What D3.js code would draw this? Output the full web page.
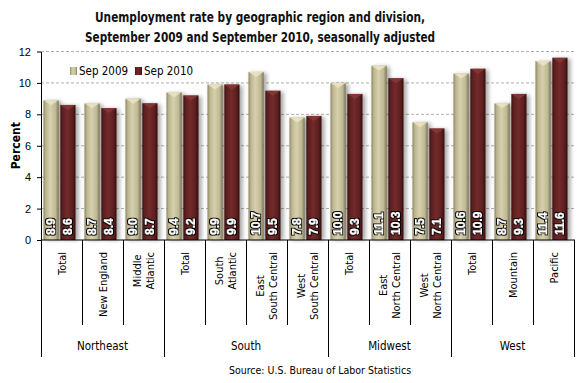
<!DOCTYPE html>
<html><head><meta charset="utf-8">
<script src="https://cdn.jsdelivr.net/npm/d3@7"></script>
<style>
body{margin:0;background:#fff;}
svg{display:block;}
text{font-family:"DejaVu Sans Condensed","DejaVu Sans",sans-serif;}
</style></head><body>
<svg id="c" width="580" height="383"></svg>
<script>
const categories = ["Total","New England","Middle\nAtlantic","Total","South\nAtlantic","East\nSouth Central","West\nSouth Central","Total","East\nNorth Central","West\nNorth Central","Total","Mountain","Pacific"];
const regions = [{name:"Northeast",n:3},{name:"South",n:4},{name:"Midwest",n:3},{name:"West",n:3}];
const seriesNames = ["Sep 2009","Sep 2010"];
const sep2009 = [8.9,8.7,9.0,9.4,9.9,10.7,7.8,10.0,11.1,7.5,10.6,8.7,11.4];
const sep2010 = [8.6,8.4,8.7,9.2,9.9,9.5,7.9,9.3,10.3,7.1,10.9,9.3,11.6];
const yTicks = [0,2,4,6,8,10,12];

const svg = d3.select("#c");
const L=41,R=574,T=51.5,B=240;
const idx = categories.map((d,i)=>i);
const x0 = d3.scaleBand().domain(idx).range([L,R]);
const x1 = d3.scaleBand().domain(seriesNames).range([2.5,34.5]).paddingInner(0.1);
const y = d3.scaleLinear().domain([0,12]).range([B,T]);

const defs = svg.append("defs");
function grad(id,stops){
  const g=defs.append("linearGradient").attr("id",id).attr("x1","0").attr("x2","1").attr("y1","0").attr("y2","0");
  stops.forEach(s=>g.append("stop").attr("offset",s[0]).attr("stop-color",s[1]));
}
grad("g0",[[0,"#8c8562"],[0.15,"#bdb58f"],[0.45,"#d6d0ae"],[0.8,"#bfb892"],[1,"#7d7656"]]);
grad("g1",[[0,"#3e1010"],[0.15,"#5e1f1f"],[0.45,"#722b2b"],[0.8,"#5e1f1f"],[1,"#350c0c"]]);
const sh = defs.append("filter").attr("id","sh").attr("x","-50%").attr("y","-20%").attr("width","200%").attr("height","140%");
sh.append("feGaussianBlur").attr("stdDeviation",2);
const tg = defs.append("filter").attr("id","tg").attr("x","-30%").attr("y","-30%").attr("width","160%").attr("height","160%");
tg.append("feMorphology").attr("in","SourceAlpha").attr("operator","dilate").attr("radius",0.8).attr("result","d");
tg.append("feFlood").attr("flood-color","#000").attr("result","f");
tg.append("feComposite").attr("in","f").attr("in2","d").attr("operator","in").attr("result","o");
const m = tg.append("feMerge"); m.append("feMergeNode").attr("in","o"); m.append("feMergeNode").attr("in","SourceGraphic");

// title
svg.append("text").attr("x",260).attr("y",22).attr("text-anchor","middle").attr("font-weight","bold").attr("font-size",13.5).attr("fill","#111")
 .attr("textLength",330).attr("lengthAdjust","spacingAndGlyphs").text("Unemployment rate by geographic region and division,");
svg.append("text").attr("x",260).attr("y",42).attr("text-anchor","middle").attr("font-weight","bold").attr("font-size",13.5).attr("fill","#111")
 .attr("textLength",350).attr("lengthAdjust","spacingAndGlyphs").text("September 2009 and September 2010, seasonally adjusted");

// grid
svg.append("g").selectAll("line").data(yTicks.filter(d=>d>0)).join("line")
 .attr("x1",L).attr("x2",R+1).attr("y1",d=>y(d)).attr("y2",d=>y(d))
 .attr("stroke","#b0b0b0").attr("stroke-dasharray","3,2").attr("stroke-width",1);

// y axis
const ya = svg.append("g").attr("transform",`translate(${L},0)`).call(d3.axisLeft(y).tickValues(yTicks).tickSize(4).tickSizeOuter(0));
ya.select(".domain").attr("stroke","#000");
ya.selectAll("text").attr("font-size",11).attr("fill","#000").attr("x",-10).style("font-family","'Liberation Sans',Arial,sans-serif");
svg.append("text").attr("transform",`translate(20,${(T+B)/2}) rotate(-90)`).attr("text-anchor","middle").attr("font-weight","bold").attr("font-size",12).text("Percent");

// bars
const data = idx.map(i=>({i, vals:[{s:seriesNames[0],v:sep2009[i],k:0},{s:seriesNames[1],v:sep2010[i],k:1}]}));
const grp = svg.append("g").selectAll("g").data(data).join("g").attr("transform",d=>`translate(${x0(d.i)},0)`);
grp.selectAll("rect.sh").data(d=>d.vals).join("rect").attr("class","sh")
 .attr("x",d=>x1(d.s)+2).attr("y",d=>y(d.v)+1).attr("width",x1.bandwidth()+1).attr("height",d=>B-y(d.v)-1)
 .attr("fill","#000").attr("opacity",0.35).attr("filter","url(#sh)");
grp.selectAll("rect.bar").data(d=>d.vals).join("rect").attr("class","bar")
 .attr("x",d=>x1(d.s)).attr("y",d=>y(d.v)).attr("width",x1.bandwidth()).attr("height",d=>B-y(d.v))
 .attr("fill",d=>`url(#g${d.k})`);
grp.selectAll("path.top").data(d=>d.vals).join("path").attr("class","top")
 .attr("d",d=>{const x=x1(d.s),w=x1.bandwidth(),t=y(d.v);return `M${x},${t}L${x+w},${t}L${x+w/2},${t+5}Z`;})
 .attr("fill",d=>d.k?"#8a3a3a":"#ece6c6").attr("opacity",0.8);
grp.selectAll("text.v").data(d=>d.vals).join("text").attr("class","v")
 .attr("transform",d=>`translate(${x1(d.s)+x1.bandwidth()/2+4},${B-5}) rotate(-90)`)
 .attr("font-size",12).attr("font-weight","bold").attr("fill","#fff").attr("filter","url(#tg)")
 .style("font-family","'Liberation Sans',Arial,sans-serif").text(d=>d.v.toFixed(1));

svg.append("line").attr("x1",L).attr("x2",R+1).attr("y1",B).attr("y2",B).attr("stroke","#000");

let starts=[]; let c=0; regions.forEach(r=>{starts.push(c); c+=r.n;}); starts.push(c);
const sepG = svg.append("g");
for(let i=0;i<=categories.length;i++){
  const isReg = starts.includes(i);
  const xx = Math.round(i===categories.length? R : x0(i))+0.5;
  sepG.append("line").attr("x1",xx).attr("x2",xx).attr("y1",B).attr("y2",isReg?357:325).attr("stroke","#000");
}
const cl = svg.append("g").selectAll("g").data(idx).join("g")
 .attr("transform",i=>`translate(${x0(i)+x0.bandwidth()/2},0)`);
cl.each(function(i){
  const lines = categories[i].split("\n");
  const g=d3.select(this);
  const n=lines.length;
  const ts = lines.map((ln,j)=>g.append("text").attr("font-size",11).attr("fill","#000").style("font-family","'DejaVu Sans Condensed',sans-serif").attr("text-anchor","middle").text(ln));
  const maxW = d3.max(ts,t=>t.node().getComputedTextLength());
  const cy = 252 + maxW/2;
  ts.forEach((t,j)=>{
    const dx = (j-(n-1)/2)*13.5 + 4;
    t.attr("transform",`translate(${dx},${cy}) rotate(-90)`);
  });
});
let acc=0;
regions.forEach(r=>{
  const xa=x0(acc), xb = acc+r.n>=categories.length? R : x0(acc+r.n);
  svg.append("text").attr("x",(xa+xb)/2).attr("y",350).attr("text-anchor","middle").attr("font-size",11.5).text(r.name);
  acc+=r.n;
});
const lg = svg.append("g");
[[70,"Sep 2009",0],[135,"Sep 2010",1]].forEach(([lx,t,k])=>{
  lg.append("rect").attr("x",lx).attr("y",67).attr("width",7).attr("height",8).attr("fill",`url(#g${k})`);
  lg.append("text").attr("x",lx+9).attr("y",75).attr("font-size",11.5).text(t);
});
svg.append("text").attr("x",320).attr("y",374).attr("text-anchor","middle").attr("font-size",10.5).text("Source: U.S. Bureau of Labor Statistics");
</script></body></html>
